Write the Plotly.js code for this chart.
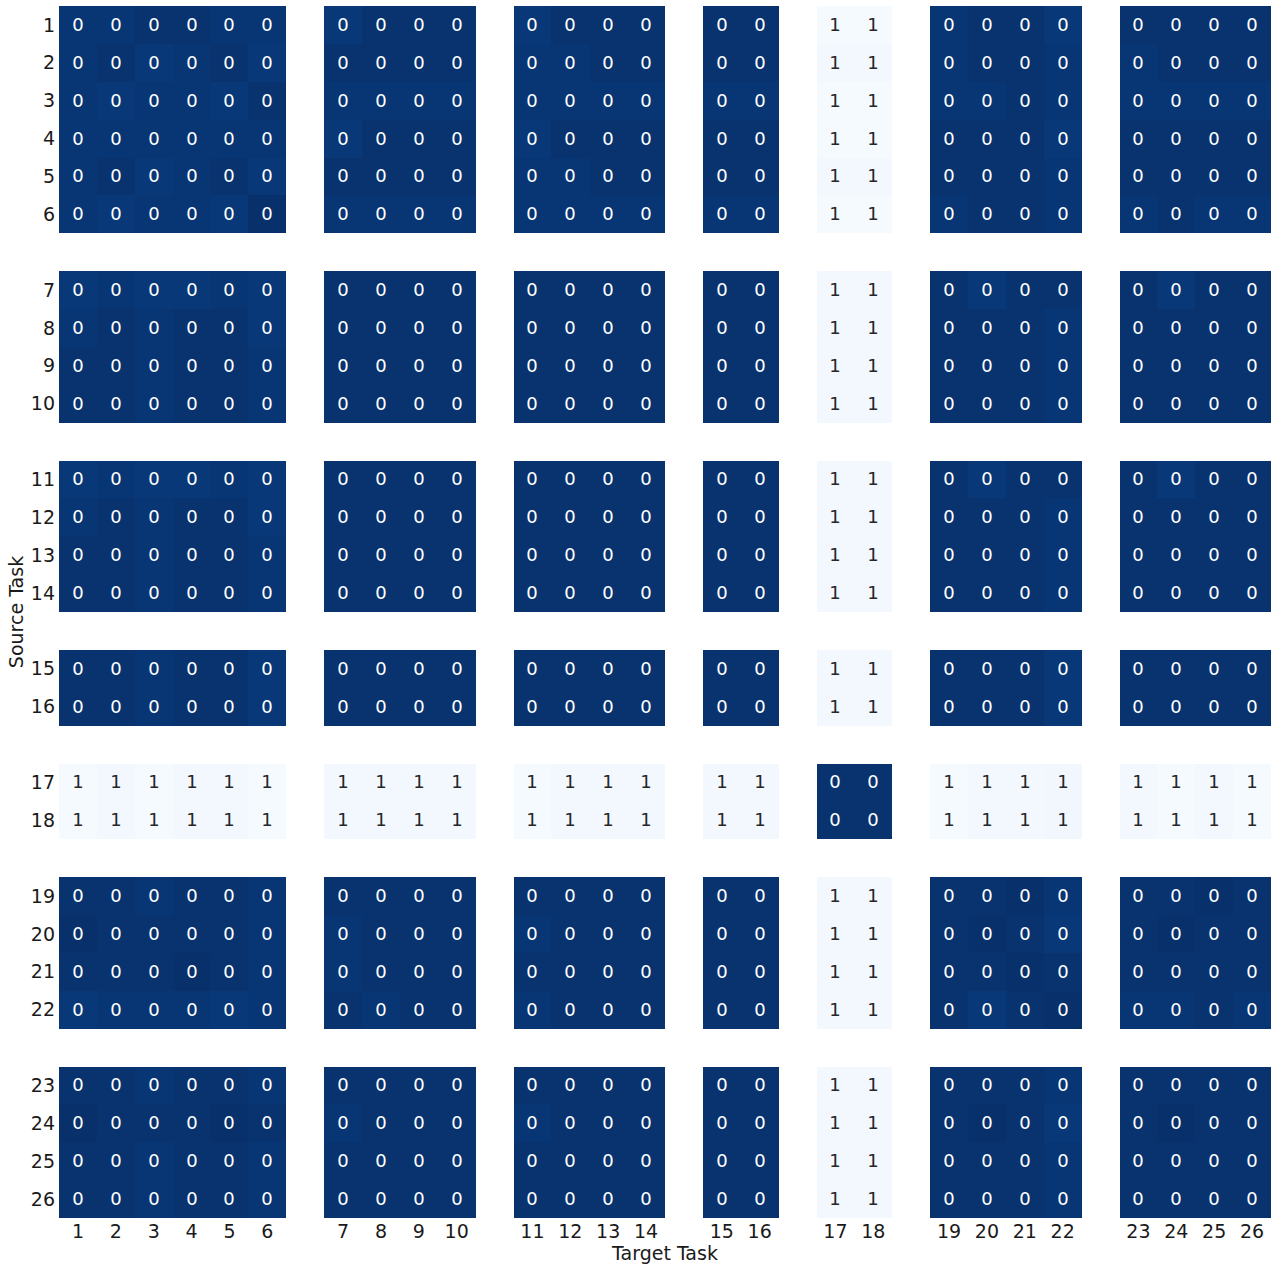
<!DOCTYPE html>
<html>
<head>
<meta charset="utf-8">
<script src="https://cdn.plot.ly/plotly-3.0.1.min.js"></script>
<style>html,body{margin:0;padding:0;background:#fff;}#chart{width:1278px;height:1271px;}</style>
</head>
<body>
<div id="chart"></div>
<script>
const taskLabels = ["1","2","3","4","5","6","7","8","9","10","11","12","13","14","15","16","17","18","19","20","21","22","23","24","25","26"];
const groupSizes = [6, 4, 4, 2, 2, 4, 4];
// transfer[source][target]
const transfer = [
 [0.02,0.02,0.01,0.01,0.02,0.02, 0.03,0.01,0.01,0.01, 0.03,0.01,0.01,0.01, 0.01,0.01, 0.99,0.99, 0.02,0.01,0.01,0.03, 0.01,0.01,0.01,0.01],
 [0.02,0.01,0.03,0.02,0.01,0.03, 0.01,0.01,0.01,0.01, 0.02,0.02,0.01,0.01, 0.01,0.01, 0.98,0.98, 0.02,0.01,0.01,0.02, 0.02,0.01,0.01,0.01],
 [0.02,0.03,0.02,0.02,0.03,0.01, 0.02,0.02,0.02,0.02, 0.02,0.02,0.02,0.02, 0.02,0.02, 0.99,0.99, 0.02,0.02,0.01,0.02, 0.02,0.02,0.02,0.02],
 [0.02,0.02,0.02,0.02,0.02,0.02, 0.03,0.01,0.01,0.01, 0.03,0.01,0.01,0.01, 0.01,0.01, 0.99,0.99, 0.01,0.01,0.01,0.03, 0.01,0.01,0.01,0.01],
 [0.02,0.01,0.03,0.02,0.01,0.03, 0.01,0.01,0.01,0.01, 0.02,0.02,0.01,0.01, 0.01,0.01, 0.98,0.98, 0.01,0.01,0.01,0.02, 0.01,0.01,0.01,0.01],
 [0.02,0.03,0.02,0.02,0.03,0.00, 0.02,0.02,0.02,0.02, 0.02,0.02,0.02,0.02, 0.02,0.02, 0.99,0.99, 0.02,0.01,0.01,0.02, 0.02,0.01,0.02,0.02],
 [0.03,0.02,0.03,0.03,0.02,0.03, 0.01,0.01,0.01,0.01, 0.01,0.01,0.01,0.01, 0.01,0.01, 0.98,0.98, 0.01,0.03,0.01,0.01, 0.01,0.03,0.01,0.01],
 [0.02,0.01,0.02,0.01,0.01,0.03, 0.01,0.01,0.01,0.01, 0.01,0.01,0.01,0.01, 0.01,0.01, 0.98,0.98, 0.01,0.01,0.01,0.02, 0.01,0.01,0.01,0.01],
 [0.01,0.01,0.02,0.01,0.01,0.02, 0.01,0.01,0.01,0.01, 0.01,0.01,0.01,0.01, 0.01,0.01, 0.98,0.98, 0.01,0.01,0.01,0.02, 0.01,0.01,0.01,0.01],
 [0.01,0.01,0.02,0.01,0.01,0.02, 0.01,0.01,0.01,0.01, 0.01,0.01,0.01,0.01, 0.01,0.01, 0.98,0.98, 0.01,0.01,0.01,0.02, 0.01,0.01,0.01,0.01],
 [0.03,0.02,0.03,0.03,0.02,0.03, 0.01,0.01,0.01,0.01, 0.01,0.01,0.01,0.01, 0.01,0.01, 0.98,0.98, 0.01,0.03,0.01,0.01, 0.01,0.03,0.01,0.01],
 [0.02,0.01,0.02,0.01,0.01,0.03, 0.01,0.01,0.01,0.01, 0.01,0.01,0.01,0.01, 0.01,0.01, 0.98,0.98, 0.01,0.01,0.01,0.02, 0.01,0.01,0.01,0.01],
 [0.01,0.01,0.02,0.01,0.01,0.02, 0.01,0.01,0.01,0.01, 0.01,0.01,0.01,0.01, 0.01,0.01, 0.98,0.98, 0.01,0.01,0.01,0.02, 0.01,0.01,0.01,0.01],
 [0.01,0.01,0.02,0.01,0.01,0.02, 0.01,0.01,0.01,0.01, 0.01,0.01,0.01,0.01, 0.01,0.01, 0.98,0.98, 0.01,0.01,0.01,0.02, 0.01,0.01,0.01,0.01],
 [0.01,0.01,0.02,0.01,0.01,0.03, 0.01,0.01,0.01,0.01, 0.01,0.01,0.01,0.01, 0.01,0.01, 0.98,0.98, 0.01,0.01,0.01,0.03, 0.01,0.01,0.01,0.01],
 [0.01,0.01,0.02,0.01,0.01,0.03, 0.01,0.01,0.01,0.01, 0.01,0.01,0.01,0.01, 0.01,0.01, 0.98,0.98, 0.01,0.01,0.01,0.03, 0.01,0.01,0.01,0.01],
 [0.99,0.98,0.99,0.98,0.98,0.99, 0.98,0.98,0.98,0.98, 0.99,0.98,0.98,0.98, 0.98,0.98, 0.01,0.01, 0.99,0.98,0.98,0.97, 0.98,0.99,0.98,0.99],
 [0.99,0.98,0.99,0.98,0.98,0.99, 0.98,0.98,0.98,0.98, 0.99,0.98,0.98,0.98, 0.98,0.98, 0.01,0.01, 0.99,0.98,0.98,0.97, 0.98,0.99,0.98,0.99],
 [0.01,0.01,0.02,0.01,0.01,0.02, 0.01,0.01,0.01,0.01, 0.01,0.01,0.01,0.01, 0.01,0.01, 0.98,0.98, 0.01,0.01,0.00,0.02, 0.01,0.01,0.00,0.01],
 [0.00,0.01,0.01,0.01,0.01,0.02, 0.02,0.01,0.01,0.01, 0.02,0.01,0.01,0.01, 0.01,0.01, 0.98,0.98, 0.01,0.00,0.01,0.03, 0.01,0.00,0.01,0.01],
 [0.01,0.01,0.01,0.00,0.01,0.02, 0.02,0.01,0.01,0.01, 0.01,0.01,0.01,0.01, 0.01,0.01, 0.98,0.98, 0.01,0.01,0.00,0.01, 0.01,0.01,0.01,0.01],
 [0.03,0.02,0.02,0.02,0.03,0.02, 0.01,0.02,0.01,0.01, 0.02,0.01,0.01,0.01, 0.01,0.01, 0.98,0.98, 0.01,0.03,0.01,0.00, 0.02,0.02,0.01,0.02],
 [0.01,0.01,0.02,0.01,0.01,0.02, 0.01,0.01,0.01,0.01, 0.01,0.01,0.01,0.01, 0.01,0.01, 0.98,0.98, 0.01,0.01,0.01,0.02, 0.01,0.01,0.01,0.01],
 [0.00,0.01,0.01,0.01,0.00,0.01, 0.02,0.01,0.01,0.01, 0.02,0.01,0.01,0.01, 0.01,0.01, 0.98,0.98, 0.01,0.00,0.01,0.03, 0.01,0.00,0.01,0.01],
 [0.01,0.01,0.02,0.01,0.01,0.02, 0.01,0.01,0.01,0.01, 0.01,0.01,0.01,0.01, 0.01,0.01, 0.98,0.98, 0.01,0.01,0.01,0.02, 0.01,0.01,0.01,0.01],
 [0.01,0.01,0.02,0.01,0.01,0.02, 0.01,0.01,0.01,0.01, 0.01,0.01,0.01,0.01, 0.01,0.01, 0.98,0.98, 0.01,0.01,0.01,0.02, 0.01,0.01,0.01,0.01]
];

// Matplotlib "Blues_r"
const bluesR = [
 [0.0,'#08306b'],[0.125,'#08519c'],[0.25,'#2171b5'],[0.375,'#4292c6'],
 [0.5,'#6baed6'],[0.625,'#9ecae1'],[0.75,'#c6dbef'],[0.875,'#deebf7'],[1.0,'#f7fbff']
];

// slot positions: one empty slot between groups
const positions = [];
let slot = 0;
groupSizes.forEach((g, gi) => {
  for (let k = 0; k < g; k++) positions.push(slot++);
  slot++;
});
const nSlots = slot - 1;
const slots = Array.from({length: nSlots}, (_, i) => i);

function buildGrid(pred) {
  const grid = slots.map(() => slots.map(() => null));
  transfer.forEach((row, i) => row.forEach((v, j) => {
    if (pred(v)) grid[positions[i]][positions[j]] = v;
  }));
  return grid;
}

const font = 'DejaVu Sans, Liberation Sans, sans-serif';
function trace(pred, color) {
  return {
    type: 'heatmap', x: slots, y: slots, z: buildGrid(pred),
    coloraxis: 'coloraxis', texttemplate: '%{z:.0f}',
    textfont: {family: font, size: 18, color: color},
    hoverongaps: false, xgap: 0, ygap: 0
  };
}

const data = [trace(v => v < 0.5, '#ffffff'), trace(v => v >= 0.5, '#262626')];

const layout = {
  width: 1278, height: 1271,
  margin: {l: 59, r: 7, t: 6, b: 53},
  paper_bgcolor: '#ffffff', plot_bgcolor: '#ffffff',
  coloraxis: {colorscale: bluesR, cmin: 0, cmax: 1, showscale: false},
  xaxis: {
    range: [-0.5, nSlots - 0.5], tickmode: 'array', tickvals: positions, ticktext: taskLabels,
    showgrid: false, zeroline: false, showline: false, ticks: '', automargin: false,
    tickfont: {family: font, size: 19, color: '#1a1a1a'},
    title: {text: 'Target Task', font: {family: font, size: 19, color: '#1a1a1a'}, standoff: 4}
  },
  yaxis: {
    range: [nSlots - 0.5, -0.5], tickmode: 'array', tickvals: positions, ticktext: taskLabels,
    showgrid: false, zeroline: false, showline: false, ticks: '', automargin: false,
    ticklabelstandoff: 3,
    tickfont: {family: font, size: 19, color: '#1a1a1a'},
    title: {text: 'Source Task', font: {family: font, size: 19, color: '#1a1a1a'}, standoff: 2}
  },
  showlegend: false
};

Plotly.newPlot('chart', data, layout, {displayModeBar: false, staticPlot: true});
</script>
</body>
</html>
